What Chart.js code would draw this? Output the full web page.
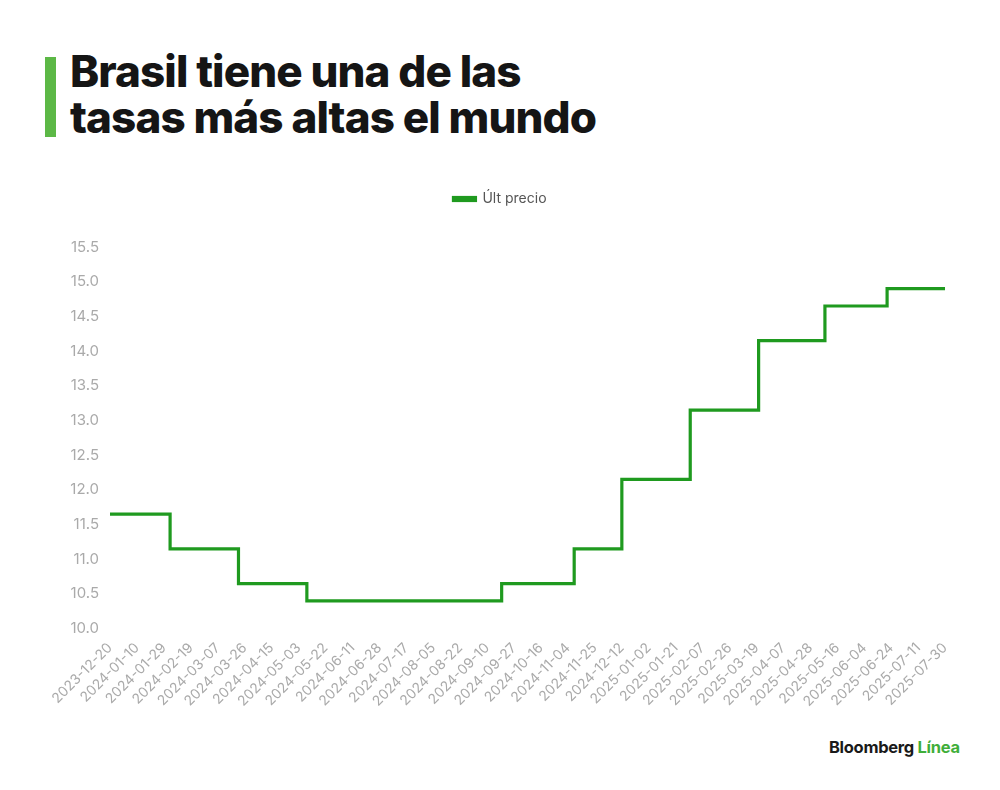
<!DOCTYPE html>
<html lang="es">

<head>
    <meta charset="UTF-8">
    <title>Brasil tiene una de las tasas más altas el mundo</title>
    <style>
        body {
            margin: 0;
            width: 1000px;
            height: 790px;
            background: #fff;
            font-family: Inter, Arial, sans-serif;
            position: relative;
            overflow: hidden;
        }

        .bar {
            position: absolute;
            left: 45px;
            top: 57px;
            width: 11px;
            height: 80px;
            background: #5cb846;
        }

        h1 {
            position: absolute;
            left: 70px;
            top: 48px;
            margin: 0;
            font-size: 44px;
            line-height: 46px;
            font-weight: 800;
            letter-spacing: -0.9px;
            color: #151515;
        }

        .chart-box {
            position: absolute;
            left: 50px;
            top: 170px;
            width: 910px;
            height: 543px;
        }

        .logo {
            position: absolute;
            left: 829px;
            top: 737px;
            font-size: 16.5px;
            font-weight: 700;
            letter-spacing: -0.3px;
            color: #1a1a1a;
        }

        .logo span {
            color: #3fae3a;
        }
    </style>
</head>

<body>
    <div class="bar"></div>
    <h1>Brasil tiene una de las<br>tasas más altas el mundo</h1>

    <div class="chart-box">
        <canvas id="rateChart"></canvas>
    </div>

    <div class="logo">Bloomberg <span>Línea</span></div>

    <script src="https://cdn.jsdelivr.net/npm/chart.js"></script>
    <script>
        // x tick labels, one every 13 trading days
        const tickDates = ['2023-12-20', '2024-01-10', '2024-01-29', '2024-02-19', '2024-03-07', '2024-03-26',
            '2024-04-15', '2024-05-03', '2024-05-22', '2024-06-11', '2024-06-28', '2024-07-17', '2024-08-05',
            '2024-08-22', '2024-09-10', '2024-09-27', '2024-10-16', '2024-11-04', '2024-11-25', '2024-12-12',
            '2025-01-02', '2025-01-21', '2025-02-07', '2025-02-26', '2025-03-19', '2025-04-07', '2025-04-28',
            '2025-05-16', '2025-06-04', '2025-06-24', '2025-07-11', '2025-07-30'];
        const tickStep = 13;

        // trading day index where the rate changes, and the new rate
        const stepDay = [0, 29, 62, 95, 189, 224, 247, 280, 313, 345, 375, 403];
        const stepRate = [11.65, 11.15, 10.65, 10.40, 10.65, 11.15, 12.15, 13.15, 14.15, 14.65, 14.90, 14.90];

        const seriesName = 'Últ precio';

        const points = stepDay.map((d, i) => ({ x: d, y: stepRate[i] }));

        // push the plot area further below the legend
        const legendGap = {
            id: 'legendGap',
            beforeInit(chart) {
                const fit = chart.legend.fit;
                chart.legend.fit = function () {
                    fit.bind(chart.legend)();
                    this.height += 31;
                };
            }
        };

        const ctx = document.getElementById('rateChart').getContext('2d');
        const rateChart = new Chart(ctx, {
            type: 'line',
            data: {
                datasets: [{
                    label: seriesName,
                    data: points,
                    borderColor: '#1f9a1f',
                    backgroundColor: '#1f9a1f',
                    borderWidth: 3.2,
                    pointRadius: 0,
                    stepped: true
                }]
            },
            options: {
                responsive: true,
                maintainAspectRatio: false,
                animation: false,
                layout: { padding: { left: 0, right: 10, top: 0, bottom: 0 } },
                plugins: {
                    legend: {
                        display: true,
                        labels: {
                            boxWidth: 22,
                            boxHeight: 3,
                            color: '#555',
                            font: { family: 'Inter', size: 14 },
                            padding: 22
                        }
                    },
                    tooltip: { enabled: false }
                },
                scales: {
                    x: {
                        type: 'linear',
                        min: 0,
                        max: 403,
                        grid: { display: false },
                        border: { display: false },
                        ticks: {
                            stepSize: tickStep,
                            autoSkip: false,
                            minRotation: 45,
                            maxRotation: 45,
                            color: '#aaa',
                            font: { family: 'Inter', size: 14 },
                            callback: v => tickDates[Math.round(v / tickStep)] || ''
                        }
                    },
                    y: {
                        min: 10,
                        max: 15.5,
                        grid: { display: false },
                        border: { display: false },
                        afterFit: s => { s.width = 60; },
                        ticks: {
                            stepSize: 0.5,
                            padding: 3,
                            color: '#aaa',
                            font: { family: 'Inter', size: 15 },
                            callback: v => v.toFixed(1)
                        }
                    }
                }
            },
            plugins: [legendGap]
        });
    </script>

</body>

</html>
